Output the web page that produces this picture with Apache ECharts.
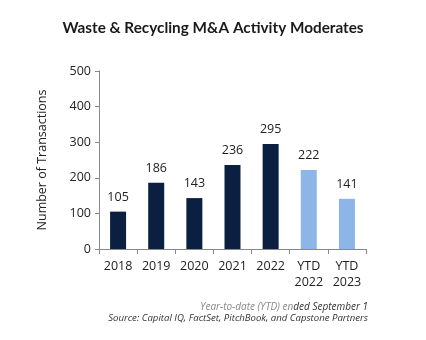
<!DOCTYPE html>
<html><head><meta charset="utf-8">
<script src="https://cdn.jsdelivr.net/npm/echarts@6/dist/echarts.min.js"></script>
<style>html,body{margin:0;padding:0;background:#fff}#c{width:426px;height:340px}</style>
</head><body><div id="c"></div>
<script>
var categories = ['2018','2019','2020','2021','2022','YTD\n2022','YTD\n2023'];
var values = [105,186,143,236,295,222,141];
var yTicks = [0,100,200,300,400,500];
var titleText = 'Waste & Recycling M&A Activity Moderates';
var yAxisTitle = 'Number of Transactions';
var note1a = 'Year-to-date (YTD) en', note1b = 'ded September 1';
var note2 = 'Source: Capital IQ, FactSet, PitchBook, and Capstone Partners';

var dark = '#0b1f41', light = '#8db6e8';
var chart = echarts.init(document.getElementById('c'), null, {renderer:'canvas'});
chart.setOption({
  animation:false,
  backgroundColor:'#fff',
  title:{text:titleText,left:'center',top:16,textStyle:{fontFamily:'Lato',fontWeight:'bold',fontSize:15.3,color:'#1a1a1a'}},
  graphic:[
    {type:'text',right:58,top:302,style:{
      text:'{a|'+note1a+'}{b|'+note1b+'}',
      rich:{a:{fontFamily:'Open Sans',fontStyle:'italic',fontSize:10,fill:'#8a8a8a',color:'#8a8a8a'},
            b:{fontFamily:'Open Sans',fontStyle:'italic',fontSize:10,fill:'#333',color:'#333'}}}},
    {type:'text',right:58,top:313,style:{text:note2,font:'italic 9.6px "Open Sans"',fill:'#333',textAlign:'right'}}
  ],
  grid:{left:99,right:60,top:71,bottom:91,containLabel:false},
  xAxis:{type:'category',data:categories,
    axisLine:{lineStyle:{color:'#888'}},
    axisTick:{show:true,length:5,lineStyle:{color:'#888'}},
    axisLabel:{color:'#222',fontFamily:'Open Sans',fontSize:12.5,margin:9,lineHeight:16,interval:0}},
  yAxis:{type:'value',min:0,max:500,interval:100,
    name:yAxisTitle,nameLocation:'middle',nameGap:50,nameRotate:90,
    nameTextStyle:{color:'#222',fontFamily:'Open Sans',fontSize:12.5},
    splitLine:{show:false},
    axisLine:{show:true,lineStyle:{color:'#888'}},
    axisTick:{show:true,length:4,lineStyle:{color:'#888'}},
    axisLabel:{color:'#222',fontFamily:'Open Sans',fontSize:12.5,margin:8,
      formatter:function(v){return yTicks.indexOf(v)>=0?String(v):'';}}},
  series:[{type:'bar',barWidth:16,
    data:values.map(function(v,i){return {value:v,itemStyle:{color:i>=5?light:dark}};}),
    label:{show:true,position:'top',distance:8,color:'#222',fontFamily:'Open Sans',fontSize:12.5}}]
});
</script></body></html>
